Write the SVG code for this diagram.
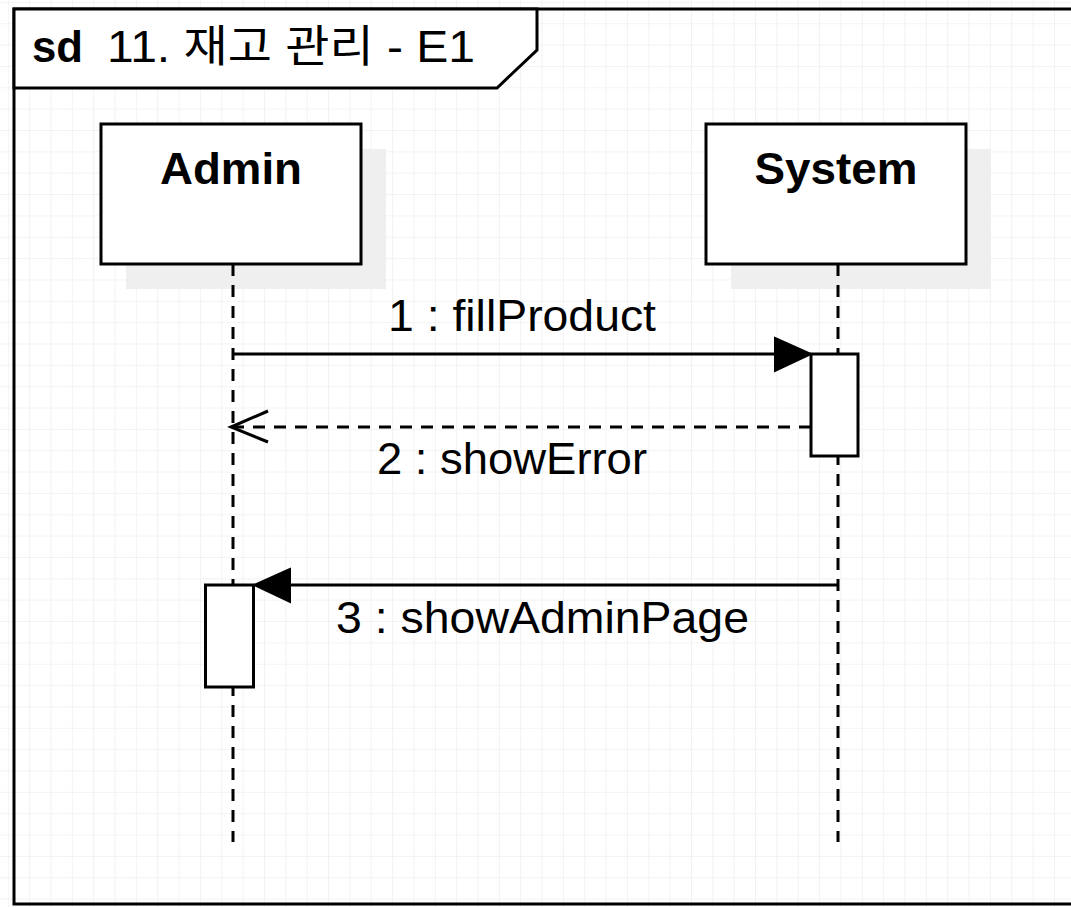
<svg xmlns="http://www.w3.org/2000/svg" width="1071" height="907" viewBox="0 0 1071 907">
  <style>
    text { font-family: "Liberation Sans", Arial, "Noto Sans CJK KR", sans-serif; fill: #000; }
    .lbl { font-size: 44px; text-anchor: middle; }
    .head { font-size: 44px; font-weight: bold; text-anchor: middle; }
    .box { fill: #fff; stroke: #000; stroke-width: 3; }
    .shadow { fill: #efefef; }
    .life { stroke: #000; stroke-width: 3; stroke-dasharray: 12 9; fill: none; }
    .msg { stroke: #000; stroke-width: 3; fill: none; }
    .ret { stroke: #000; stroke-width: 3; stroke-dasharray: 12 9; fill: none; }
  </style>
  <defs>
    <pattern id="grid" patternUnits="userSpaceOnUse" x="7.8" y="1.9" width="21.35" height="21.35">
      <path d="M0 0 H21.35 M0 0 V21.35" stroke="#efefef" stroke-width="1.5" fill="none"/>
    </pattern>
  </defs>
  <rect x="0" y="0" width="1071" height="907" fill="#fff"/>
  <rect x="0" y="0" width="1071" height="907" fill="url(#grid)"/>

  <g id="frame">
    <rect x="14" y="9" width="1080" height="895" fill="none" stroke="#000" stroke-width="3"/>
    <path d="M14 9 H537 V50 L497 88 H14 Z" fill="#fff" stroke="#000" stroke-width="3"/>
    <text y="62" font-size="44"><tspan x="32" font-weight="bold" textLength="51" lengthAdjust="spacingAndGlyphs">sd</tspan><tspan x="107" textLength="368" lengthAdjust="spacingAndGlyphs">11. 재고 관리 - E1</tspan></text>
  </g>

  <g id="admin">
    <rect class="shadow" x="126" y="149" width="260" height="140"/>
    <rect class="box" x="101" y="124" width="260" height="140"/>
    <text class="head" x="231" y="184" textLength="142" lengthAdjust="spacingAndGlyphs">Admin</text>
  </g>
  <g id="system">
    <rect class="shadow" x="731" y="149" width="260" height="140"/>
    <rect class="box" x="706" y="124" width="260" height="140"/>
    <text class="head" x="836" y="184" textLength="163" lengthAdjust="spacingAndGlyphs">System</text>
  </g>

  <g id="lifelines">
    <line class="life" x1="233" y1="264" x2="233" y2="842"/>
    <line class="life" x1="838" y1="264" x2="838" y2="842"/>
  </g>

  <g id="activation-system">
    <rect class="box" x="811" y="354" width="47" height="102"/>
  </g>
  <g id="activation-admin">
    <rect class="box" x="205.5" y="585" width="48" height="102"/>
  </g>

  <g id="connectors">
    <line class="msg" x1="233" y1="354" x2="775" y2="354"/>
    <path d="M775 338 L811 354 L775 371 Z" fill="#000" stroke="#000" stroke-width="2"/>
    <text class="lbl" x="522" y="331" textLength="268" lengthAdjust="spacingAndGlyphs">1 : fillProduct</text>

    <line class="ret" x1="811" y1="427" x2="232" y2="427"/>
    <path d="M268 411 L231 427 L268 442" class="msg"/>
    <text class="lbl" x="512" y="474" textLength="270" lengthAdjust="spacingAndGlyphs">2 : showError</text>

    <line class="msg" x1="838" y1="585" x2="290" y2="585"/>
    <path d="M290 569 L254 585 L290 602 Z" fill="#000" stroke="#000" stroke-width="2"/>
    <text class="lbl" x="542.5" y="633" textLength="413" lengthAdjust="spacingAndGlyphs">3 : showAdminPage</text>
  </g>
</svg>
